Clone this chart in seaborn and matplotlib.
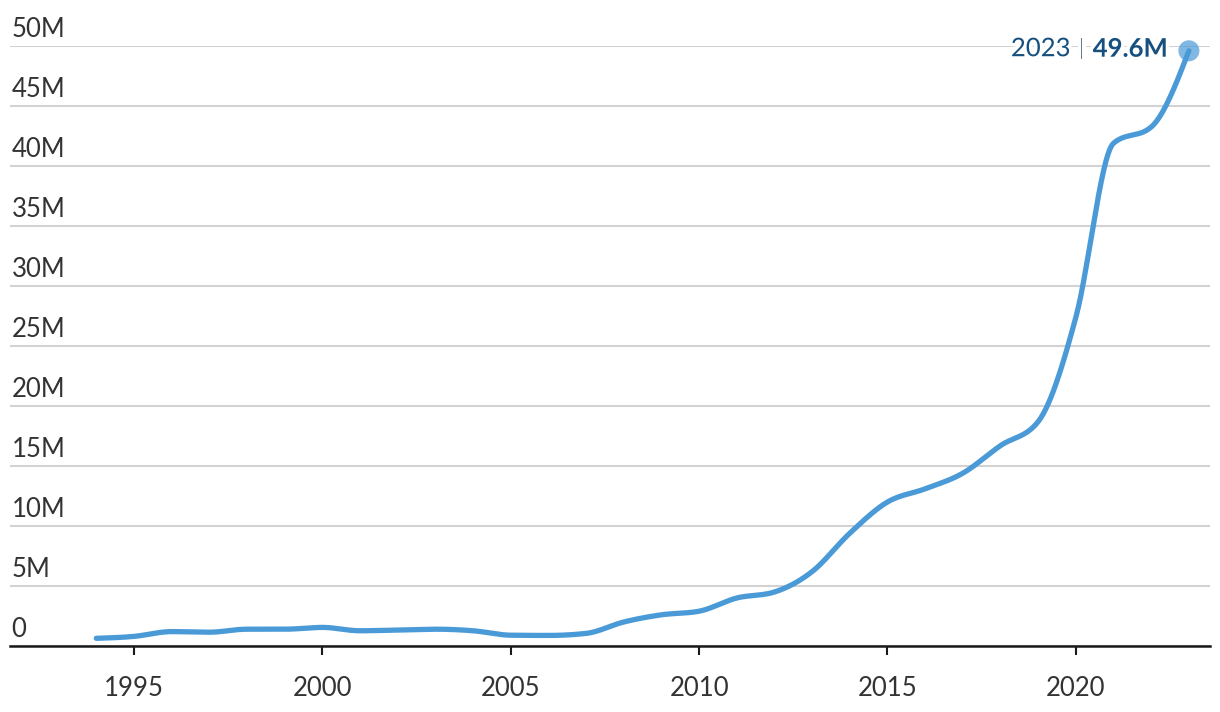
import numpy as np
import pandas as pd
import matplotlib
matplotlib.use("Agg")
import matplotlib.pyplot as plt
import matplotlib.patheffects as pe
import seaborn as sns

# data (millions)
years = list(range(1994, 2024))
values_m = [0.64, 0.8, 1.2, 1.15, 1.4, 1.4, 1.55, 1.27, 1.33, 1.4,
            1.27, 0.9, 0.88, 1.05, 2.0, 2.6, 2.9, 4.0, 4.5, 6.2,
            9.4, 12.0, 13.1, 14.4, 16.7, 18.7, 27.4, 41.9, 43.25, 49.6]
y_ticks = list(range(0, 51, 5))
y_labels = ["0"] + [f"{v}M" for v in y_ticks[1:]]
x_ticks = [1995, 2000, 2005, 2010, 2015, 2020]
last_year_label = "2023"
last_value_label = "49.6M"

LINE = "#4a9ad8"
TEXT = "#333333"
NAVY = "#17507f"
FS = 18.5


def monotone_x(x, y, n=30):
    # d3-style curveMonotoneX so the line looks like the original
    x = np.asarray(x, float)
    y = np.asarray(y, float)
    h = np.diff(x)
    s = np.diff(y) / h
    t = np.zeros_like(y)
    for i in range(1, len(y) - 1):
        s0, s1 = s[i - 1], s[i]
        p = (s0 * h[i] + s1 * h[i - 1]) / (h[i - 1] + h[i])
        t[i] = (np.sign(s0) + np.sign(s1)) * min(abs(s0), abs(s1), 0.5 * abs(p))
    t[0] = (3 * s[0] - t[1]) / 2
    t[-1] = (3 * s[-1] - t[-2]) / 2
    xs, ys = [], []
    for i in range(len(h)):
        u = np.linspace(0, 1, n, endpoint=False)
        h00 = 2 * u**3 - 3 * u**2 + 1
        h10 = u**3 - 2 * u**2 + u
        h01 = -2 * u**3 + 3 * u**2
        h11 = u**3 - u**2
        xs.append(x[i] + u * h[i])
        ys.append(h00 * y[i] + h10 * h[i] * t[i] + h01 * y[i + 1] + h11 * h[i] * t[i + 1])
    xs.append([x[-1]])
    ys.append([y[-1]])
    return np.concatenate(xs), np.concatenate(ys)


sns.set_theme(style="white")
plt.rcParams["font.family"] = ["Lato", "DejaVu Sans"]

fig = plt.figure(figsize=(12.2, 7.12), dpi=100)
ax = fig.add_axes([10 / 1220, 66 / 712, 1200 / 1220, 600 / 712])

sx, sy = monotone_x(years, values_m)
smooth = pd.DataFrame({"year": sx, "value": sy})
sns.lineplot(data=smooth, x="year", y="value", ax=ax, color=LINE, lw=3.8,
             solid_capstyle="round", zorder=3)

ax.scatter([years[-1]], [values_m[-1]], s=230, color=LINE, alpha=0.7, zorder=4,
           clip_on=False, edgecolor="none")

ax.set_xlim(1991.71, 2023.56)
ax.set_ylim(0, 50)
ax.set_yticks(y_ticks)
ax.set_yticklabels([])
ax.tick_params(axis="y", length=0)
ax.yaxis.grid(True, color="#d2d2d2", lw=1.5)
ax.xaxis.grid(False)
for side in ["top", "right", "left"]:
    ax.spines[side].set_visible(False)
ax.spines["bottom"].set_color("#1a1a1a")
ax.spines["bottom"].set_linewidth(1.8)

ax.set_xticks(x_ticks)
ax.set_xticklabels([str(v) for v in x_ticks])
ax.tick_params(axis="x", direction="out", length=6.5, width=1.5, color="#1a1a1a",
               labelsize=FS, labelcolor=TEXT, pad=15, bottom=True)
ax.set_xlabel("")
ax.set_ylabel("")

for v, lab in zip(y_ticks, y_labels):
    ax.annotate(lab, xy=(0, v), xycoords=ax.get_yaxis_transform(),
                xytext=(1, 6.5), textcoords="offset points",
                ha="left", va="baseline", fontsize=FS, color=TEXT)

# end label: "2023 | 49.6M"
halo = [pe.withStroke(linewidth=5, foreground="white")]
fig.canvas.draw()
r = fig.canvas.get_renderer()
t_val = ax.annotate(last_value_label, xy=(years[-1], values_m[-1]),
                    xytext=(-15, 1.5), textcoords="offset points",
                    ha="right", va="center", fontsize=FS, fontweight="bold",
                    color=NAVY, path_effects=halo, zorder=5)
w_val = t_val.get_window_extent(r).width * 72 / fig.dpi
t_bar = ax.annotate("|", xy=(years[-1], values_m[-1]),
                    xytext=(-15 - w_val - 6, 1.5), textcoords="offset points",
                    ha="right", va="center", fontsize=16, color="#5f7f99",
                    path_effects=halo, zorder=5)
w_bar = t_bar.get_window_extent(r).width * 72 / fig.dpi
ax.annotate(last_year_label, xy=(years[-1], values_m[-1]),
            xytext=(-15 - w_val - 6 - w_bar - 6, 1.5), textcoords="offset points",
            ha="right", va="center", fontsize=FS, color=NAVY,
            path_effects=halo, zorder=5)

fig.savefig("out.png", dpi=100)
